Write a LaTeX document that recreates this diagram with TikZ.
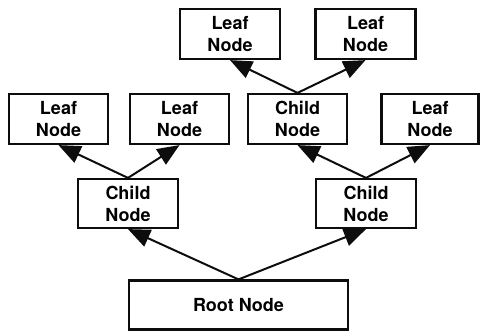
\documentclass[tikz,border=0pt]{standalone}
\usepackage{fontspec}
\setmainfont{TeX Gyre Heros}
\usetikzlibrary{arrows.meta}
\begin{document}
\begin{tikzpicture}[x=1pt,y=-1pt,
  box/.style={draw=black!95,line width=2.2pt,rectangle,minimum height=50pt,inner sep=0pt,
    align=center,font=\fontsize{18}{22}\selectfont\bfseries},
  arr/.style={draw=black!95,line width=2pt,-{Triangle[length=22pt,width=18pt]}}]
\useasboundingbox (0,0) rectangle (481,332);
\node[box,minimum width=100pt] (t1) at (230,34) {Leaf\\Node};
\node[box,minimum width=100pt] (t2) at (365.5,34) {Leaf\\Node};
\node[box,minimum width=99pt] (l1) at (58.5,119) {Leaf\\Node};
\node[box,minimum width=99pt] (l2) at (179.5,119) {Leaf\\Node};
\node[box,minimum width=99pt] (cm) at (297.5,119) {Child\\Node};
\node[box,minimum width=97pt] (l3) at (430,119) {Leaf\\Node};
\node[box,minimum width=100pt,minimum height=49pt] (c1) at (128,203.5) {Child\\Node};
\node[box,minimum width=100pt,minimum height=49pt] (c2) at (366,203.5) {Child\\Node};
\node[box,minimum width=219pt,minimum height=49pt] (r) at (238.5,305) {Root Node};
\draw[arr] (r.north) -- (c1.south);
\draw[arr] (r.north) -- (c2.south);
\draw[arr] (c1.north) -- (l1.south);
\draw[arr] (c1.north) -- (l2.south);
\draw[arr] (c2.north) -- (cm.south);
\draw[arr] (c2.north) -- (l3.south);
\draw[arr] (cm.north) -- (t1.south);
\draw[arr] (cm.north) -- (t2.south);
\end{tikzpicture}
\end{document}
